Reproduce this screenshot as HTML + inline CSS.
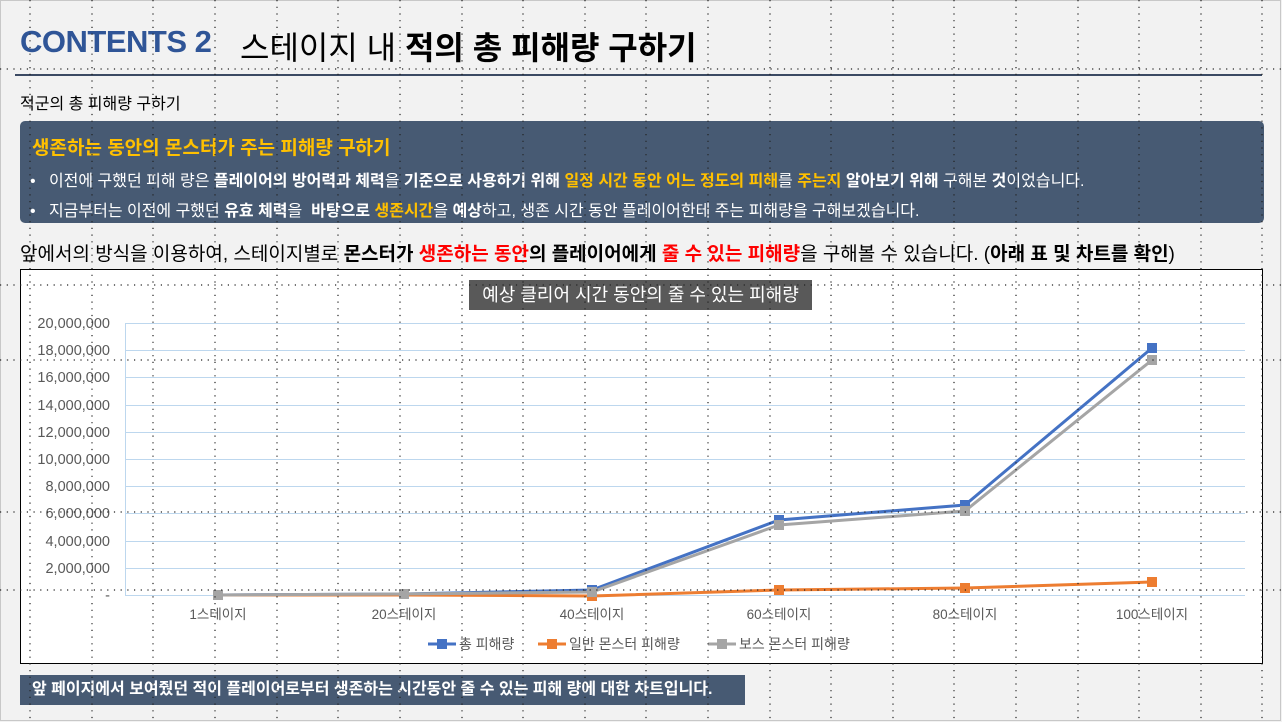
<!DOCTYPE html>
<html><head><meta charset="utf-8"><style>
body{margin:0;width:1282px;height:722px;background:#f2f2f2;position:relative;overflow:hidden;font-family:"Liberation Sans","Noto Sans CJK KR",sans-serif;}
.a{position:absolute;white-space:nowrap}
</style></head><body>
<div style="position:absolute;left:0;top:0;width:1281px;height:721px;border:1px solid #c8c8c8;box-sizing:border-box"></div>
<div class="a" style="left:20px;top:24px;font-size:31px;color:#2f5597;font-weight:bold;letter-spacing:-0.5px">CONTENTS 2</div>
<div class="a" style="left:240px;top:23px;font-size:32px;color:#000">스테이지 내 <b>적의 총 피해량 구하기</b></div>
<div class="a" style="left:15px;top:74px;width:1247px;height:2px;background:#3b4a63"></div>
<div class="a" style="left:20px;top:90px;font-size:16px;color:#000">적군의 총 피해량 구하기</div>
<div class="a" style="left:20px;top:121px;width:1244px;height:102px;background:#475a73;border-radius:5px"></div>
<div class="a" style="left:32px;top:133px;font-size:19px;color:#ffc000;font-weight:bold">생존하는 동안의 몬스터가 주는 피해량 구하기</div>
<div class="a" style="left:30px;top:167px;font-size:16px;color:#fff">•&nbsp;&nbsp; 이전에 구했던 피해 량은 <b>플레이어의 방어력과 체력</b>을 <b>기준으로 사용하기 위해</b> <b style="color:#ffc000">일정 시간 동안 어느 정도의 피해</b>를 <b style="color:#ffc000">주는지</b> <b>알아보기 위해</b> 구해본 <b>것</b>이었습니다.</div>
<div class="a" style="left:30px;top:197px;font-size:16px;color:#fff">•&nbsp;&nbsp; 지금부터는 이전에 구했던 <b>유효 체력</b>을 &nbsp;<b>바탕으로</b> <b style="color:#ffc000">생존시간</b>을 <b>예상</b>하고, 생존 시간 동안 플레이어한테 주는 피해량을 구해보겠습니다.</div>
<div class="a" style="left:20px;top:239px;font-size:19px;color:#000">앞에서의 방식을 이용하여, 스테이지별로 <b>몬스터가 <span style="color:#f00">생존하는 동안</span>의 플레이어에게 <span style="color:#f00">줄 수 있는 피해량</span></b>을 구해볼 수 있습니다. (<b>아래 표 및 차트를 확인</b>)</div>
<div class="a" style="left:20px;top:269px;width:1243px;height:395px;background:#fff;border:1px solid #000;box-sizing:border-box"></div>
<div class="a" style="left:469px;top:280px;width:343px;height:30px;background:#595959;color:#fff;font-size:18px;text-align:center;line-height:30px">예상 클리어 시간 동안의 줄 수 있는 피해량</div>
<svg class="a" style="left:0;top:0" width="1282" height="722" font-family="Liberation Sans, Noto Sans CJK KR, sans-serif">
<g stroke="#bdd7ee" stroke-width="1">
<line x1="125" y1="323.5" x2="1245" y2="323.5"/><line x1="125" y1="350.5" x2="1245" y2="350.5"/><line x1="125" y1="377.5" x2="1245" y2="377.5"/><line x1="125" y1="405.5" x2="1245" y2="405.5"/><line x1="125" y1="432.5" x2="1245" y2="432.5"/><line x1="125" y1="459.5" x2="1245" y2="459.5"/><line x1="125" y1="486.5" x2="1245" y2="486.5"/><line x1="125" y1="513.5" x2="1245" y2="513.5"/><line x1="125" y1="541.5" x2="1245" y2="541.5"/><line x1="125" y1="568.5" x2="1245" y2="568.5"/><line x1="125" y1="595.5" x2="1245" y2="595.5"/><line x1="125.5" y1="323" x2="125.5" y2="595"/>
</g>
<g font-size="14.5" fill="#595959" text-anchor="end">
<text x="110" y="328">20,000,000</text><text x="110" y="355">18,000,000</text><text x="110" y="382">16,000,000</text><text x="110" y="410">14,000,000</text><text x="110" y="437">12,000,000</text><text x="110" y="464">10,000,000</text><text x="110" y="491">8,000,000</text><text x="110" y="518">6,000,000</text><text x="110" y="546">4,000,000</text><text x="110" y="573">2,000,000</text><text x="110" y="600">-</text>
</g>
<g font-size="13.5" fill="#595959" text-anchor="middle">
<text x="218" y="619">1스테이지</text><text x="404" y="619">20스테이지</text><text x="592" y="619">40스테이지</text><text x="779" y="619">60스테이지</text><text x="965" y="619">80스테이지</text><text x="1152" y="619">100스테이지</text>
</g>
<polyline fill="none" stroke="#4472c4" stroke-width="3" points="218,595 404,594 592,590 779,520 965,505 1152,348"/>
<polyline fill="none" stroke="#ed7d31" stroke-width="3" points="218,595 404,595 592,596 779,590 965,588 1152,582"/>
<polyline fill="none" stroke="#a5a5a5" stroke-width="3" points="218,595 404,594 592,592 779,525 965,511 1152,360"/>
<g fill="#4472c4"><rect x="213" y="590" width="10" height="10"/><rect x="399" y="589" width="10" height="10"/><rect x="587" y="585" width="10" height="10"/><rect x="774" y="515" width="10" height="10"/><rect x="960" y="500" width="10" height="10"/><rect x="1147" y="343" width="10" height="10"/></g>
<g fill="#ed7d31"><rect x="587" y="591" width="10" height="10"/><rect x="774" y="585" width="10" height="10"/><rect x="960" y="583" width="10" height="10"/><rect x="1147" y="577" width="10" height="10"/></g>
<g fill="#a5a5a5"><rect x="213" y="590" width="10" height="10"/><rect x="399" y="589" width="10" height="10"/><rect x="587" y="587" width="10" height="10"/><rect x="774" y="520" width="10" height="10"/><rect x="960" y="506" width="10" height="10"/><rect x="1147" y="355" width="10" height="10"/></g>
<g font-size="14" fill="#595959">
<line x1="428" y1="644" x2="456" y2="644" stroke="#4472c4" stroke-width="3"/><rect x="437" y="639" width="10" height="10" fill="#4472c4"/><text x="459" y="649">총 피해량</text>
<line x1="538" y1="644" x2="566" y2="644" stroke="#ed7d31" stroke-width="3"/><rect x="547" y="639" width="10" height="10" fill="#ed7d31"/><text x="569" y="649">일반 몬스터 피해량</text>
<line x1="708" y1="644" x2="736" y2="644" stroke="#a5a5a5" stroke-width="3"/><rect x="717" y="639" width="10" height="10" fill="#a5a5a5"/><text x="739" y="649">보스 몬스터 피해량</text>
</g>
</svg>
<div class="a" style="left:20px;top:675px;width:725px;height:30px;background:#475a73;color:#fff;font-size:16px;font-weight:bold;line-height:30px;padding-left:12px;box-sizing:border-box">앞 페이지에서 보여줬던 적이 플레이어로부터 생존하는 시간동안 줄 수 있는 피해 량에 대한 차트입니다.</div>
<svg class="a" style="left:0;top:0" width="1282" height="722">
<g stroke="#222" stroke-width="1.2" stroke-dasharray="1.2 5.5">
<line x1="0" y1="69" x2="1282" y2="69"/><line x1="0" y1="285" x2="1282" y2="285"/><line x1="0" y1="360" x2="1282" y2="360"/><line x1="0" y1="512" x2="1282" y2="512"/><line x1="0" y1="590" x2="1282" y2="590"/>
<line x1="30" y1="0" x2="30" y2="722"/><line x1="92" y1="0" x2="92" y2="722"/><line x1="153" y1="0" x2="153" y2="722"/><line x1="215" y1="0" x2="215" y2="722"/><line x1="277" y1="0" x2="277" y2="722"/><line x1="338" y1="0" x2="338" y2="722"/><line x1="400" y1="0" x2="400" y2="722"/><line x1="462" y1="0" x2="462" y2="722"/><line x1="523" y1="0" x2="523" y2="722"/><line x1="585" y1="0" x2="585" y2="722"/><line x1="646" y1="0" x2="646" y2="722"/><line x1="708" y1="0" x2="708" y2="722"/><line x1="770" y1="0" x2="770" y2="722"/><line x1="831" y1="0" x2="831" y2="722"/><line x1="893" y1="0" x2="893" y2="722"/><line x1="954" y1="0" x2="954" y2="722"/><line x1="1016" y1="0" x2="1016" y2="722"/><line x1="1078" y1="0" x2="1078" y2="722"/><line x1="1139" y1="0" x2="1139" y2="722"/><line x1="1201" y1="0" x2="1201" y2="722"/><line x1="1262" y1="0" x2="1262" y2="722"/>
</g></svg>
</body></html>
